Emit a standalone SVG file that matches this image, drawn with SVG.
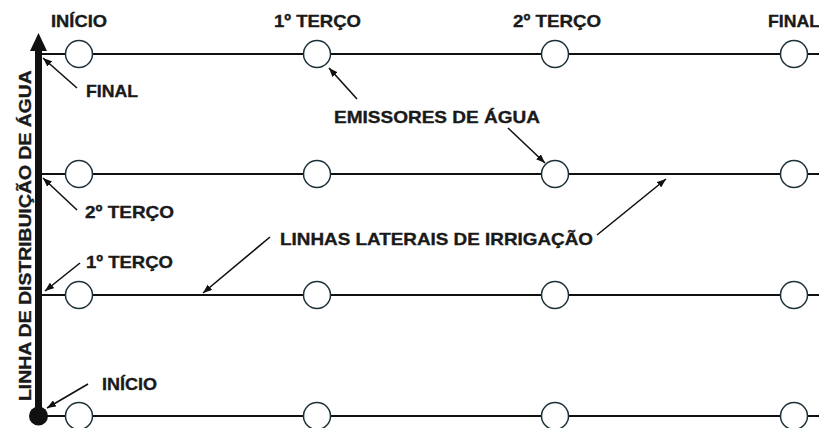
<svg xmlns="http://www.w3.org/2000/svg" width="819" height="428" viewBox="0 0 819 428">
<style>
.lbl{font-family:"Liberation Sans",Arial,sans-serif;font-weight:bold;font-size:17px;fill:#1a1a1a;stroke:#1a1a1a;stroke-width:0.35}
.lat{stroke:#111;stroke-width:2;fill:none}
.em{fill:#fff;stroke:#1e3038;stroke-width:1.5}
.lead{stroke:#111;stroke-width:1.6;fill:none;marker-end:url(#ah)}
</style>
<defs>
<marker id="ah" markerUnits="userSpaceOnUse" markerWidth="9" markerHeight="7" refX="9" refY="3.5" orient="auto">
<path d="M0,0 L9,3.5 L0,7 z" fill="#111"/>
</marker>
</defs>
<rect width="819" height="428" fill="#fff"/>

<g id="laterals">
<line class="lat" x1="38" y1="54" x2="819" y2="54"/>
<line class="lat" x1="38" y1="174" x2="819" y2="174"/>
<line class="lat" x1="38" y1="295" x2="819" y2="295"/>
<line class="lat" x1="38" y1="416" x2="819" y2="416"/>
</g>

<g id="main-line">
<rect x="35" y="48" width="7" height="368" fill="#111"/>
<polygon points="38.5,33 30,51 47,51" fill="#111"/>
<circle cx="38.5" cy="416" r="9.5" fill="#111"/>
<text class="lbl" transform="translate(31,401) rotate(-90) scale(1.14,1)" x="0" y="0">LINHA DE DISTRIBUIÇÃO DE ÁGUA</text>
</g>

<g id="emitters">
<g id="e11"><circle class="em" cx="79" cy="54" r="13.5"/></g>
<g id="e12"><circle class="em" cx="317" cy="54" r="13.5"/></g>
<g id="e13"><circle class="em" cx="555" cy="54" r="13.5"/></g>
<g id="e14"><circle class="em" cx="794" cy="54" r="13.5"/></g>
<g id="e21"><circle class="em" cx="79" cy="174" r="13.5"/></g>
<g id="e22"><circle class="em" cx="317" cy="174" r="13.5"/></g>
<g id="e23"><circle class="em" cx="555" cy="174" r="13.5"/></g>
<g id="e24"><circle class="em" cx="794" cy="174" r="13.5"/></g>
<g id="e31"><circle class="em" cx="79" cy="295" r="13.5"/></g>
<g id="e32"><circle class="em" cx="317" cy="295" r="13.5"/></g>
<g id="e33"><circle class="em" cx="555" cy="295" r="13.5"/></g>
<g id="e34"><circle class="em" cx="794" cy="295" r="13.5"/></g>
<g id="e41"><circle class="em" cx="79" cy="416" r="13.5"/></g>
<g id="e42"><circle class="em" cx="317" cy="416" r="13.5"/></g>
<g id="e43"><circle class="em" cx="555" cy="416" r="13.5"/></g>
<g id="e44"><circle class="em" cx="794" cy="416" r="13.5"/></g>
</g>

<g id="top-labels">
<g id="lbl-inicio-top"><text class="lbl" x="51" y="27" textLength="56" lengthAdjust="spacingAndGlyphs">INÍCIO</text></g>
<g id="lbl-1terco-top"><text class="lbl" x="274" y="27" textLength="87" lengthAdjust="spacingAndGlyphs">1º TERÇO</text></g>
<g id="lbl-2terco-top"><text class="lbl" x="513" y="27" textLength="88" lengthAdjust="spacingAndGlyphs">2º TERÇO</text></g>
<g id="lbl-final-top"><text class="lbl" x="768" y="27" textLength="52" lengthAdjust="spacingAndGlyphs">FINAL</text></g>
</g>

<g id="side-labels">
<g id="lbl-final"><text class="lbl" x="86" y="97" textLength="52" lengthAdjust="spacingAndGlyphs">FINAL</text></g>
<g id="lbl-2terco"><text class="lbl" x="85" y="218" textLength="89" lengthAdjust="spacingAndGlyphs">2º TERÇO</text></g>
<g id="lbl-1terco"><text class="lbl" x="86" y="268" textLength="87" lengthAdjust="spacingAndGlyphs">1º TERÇO</text></g>
<g id="lbl-inicio"><text class="lbl" x="102" y="390" textLength="55" lengthAdjust="spacingAndGlyphs">INÍCIO</text></g>
<g id="lbl-emissores"><text class="lbl" x="334" y="123" textLength="206" lengthAdjust="spacingAndGlyphs">EMISSORES DE ÁGUA</text></g>
<g id="lbl-linhas"><text class="lbl" x="280" y="245" textLength="313" lengthAdjust="spacingAndGlyphs">LINHAS LATERAIS DE IRRIGAÇÃO</text></g>
</g>

<g id="connectors">
<line class="lead" x1="77" y1="88" x2="43" y2="58"/>
<line class="lead" x1="77" y1="210" x2="43" y2="178"/>
<line class="lead" x1="80" y1="263" x2="45" y2="291"/>
<line class="lead" x1="88" y1="384" x2="47" y2="408"/>
<line class="lead" x1="357" y1="99" x2="329" y2="68"/>
<line class="lead" x1="508" y1="128" x2="545" y2="163"/>
<line class="lead" x1="270" y1="237" x2="203" y2="293"/>
<line class="lead" x1="597" y1="235" x2="666" y2="179"/>
</g>
</svg>
